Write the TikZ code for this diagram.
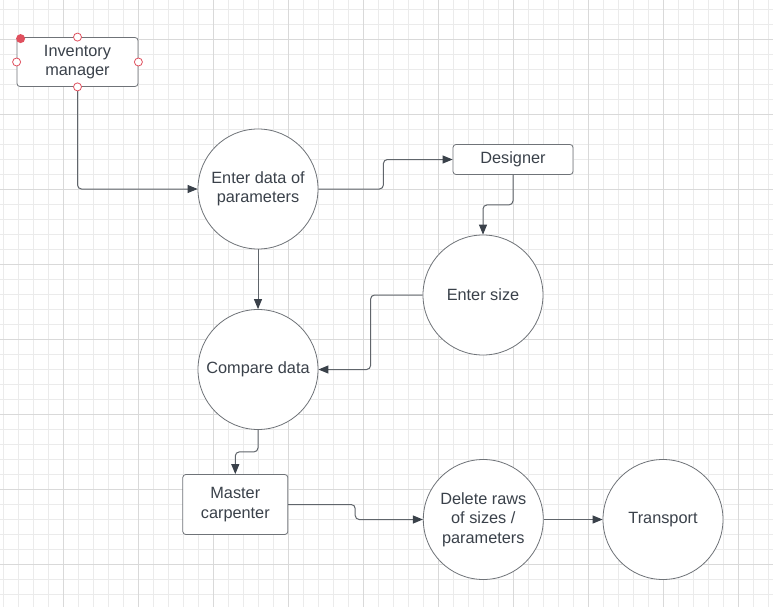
\documentclass[tikz,border=0pt]{standalone}
\usepackage{fontspec}
\setmainfont{Liberation Sans}
\usetikzlibrary{arrows.meta}
\definecolor{gridminor}{HTML}{EBEBEB}
\definecolor{gridmajor}{HTML}{D9D9D9}
\definecolor{txt}{HTML}{3A414A}
\definecolor{border}{HTML}{6F7378}
\definecolor{conn}{HTML}{60656B}
\definecolor{handle}{HTML}{E0505E}
\begin{document}
\begin{tikzpicture}[x=1pt,y=-1pt,
  lbl/.style={text=txt, font=\fontsize{16.3}{19.5}\selectfont, align=center},
  circ/.style={lbl, circle, draw=border, fill=white, minimum size=120pt, inner sep=0pt, line width=0.8pt},
  box/.style={lbl, rectangle, rounded corners=3pt, draw=border, fill=white, inner sep=0pt, line width=0.8pt},
  conn/.style={draw=conn, line width=1pt, rounded corners=4pt, -{Triangle[length=10pt,width=8pt,fill=txt,color=txt]}},
  hollowhandle/.style={circle, draw=handle, fill=white, line width=0.8pt, minimum size=8pt, inner sep=0pt},
  fullhandle/.style={circle, fill=handle, minimum size=9pt, inner sep=0pt}]
\useasboundingbox (0,0) rectangle (773,607);
\fill[white] (0,0) rectangle (773,607);
% grid
\foreach \i in {0,...,51} \draw[gridminor, line width=1pt] ({3.3+15*\i},0) -- ({3.3+15*\i},607);
\foreach \j in {0,...,40} \draw[gridminor, line width=1pt] (0,{9.3+15*\j}) -- (773,{9.3+15*\j});
\foreach \i in {0,...,9} \draw[gridmajor, line width=1pt] ({63.3+75*\i},0) -- ({63.3+75*\i},607);
\foreach \j in {0,...,7} \draw[gridmajor, line width=1pt] (0,{39.3+75*\j}) -- (773,{39.3+75*\j});
% nodes
\node[box, minimum width=121pt, minimum height=49pt] (inv) at (77.5,62) {Inventory\\manager};
\node[circ] (enter) at (258,189) {Enter data of\\parameters};
\node[box, minimum width=120pt, minimum height=30pt] (des) at (513,159.5) {Designer};
\node[circ] (esize) at (483,295) {Enter size};
\node[circ] (cmp) at (258,369.5) {Compare data};
\node[box, minimum width=105pt, minimum height=60pt] (mast) at (235.3,504.5) {Master\\carpenter};
\node[circ] (del) at (483.3,519.5) {Delete raws\\of sizes /\\parameters};
\node[circ] (trans) at (663,519.5) {Transport};
% connectors
\draw[conn] (inv.south) |- (enter.west);
\draw[conn] (enter.east) -- ++(65,0) |- (des.west);
\draw[conn] (des.south) -- ++(0,30) -| (esize.north);
\draw[conn] (enter.south) -- (cmp.north);
\draw[conn] (esize.west) -- ++(-52,0) |- (cmp.east);
\draw[conn] (cmp.south) -- ++(0,22) -| (mast.north);
\draw[conn] (mast.east) -- ++(67,0) |- (del.west);
\draw[conn] (del.east) -- (trans.west);
% selection handles
\node[fullhandle] (h0) at (20.6,38.6) {};
\node[hollowhandle] (h1) at (inv.north) {};
\node[hollowhandle] (h2) at (inv.west) {};
\node[hollowhandle] (h3) at (inv.east) {};
\node[hollowhandle] (h4) at (inv.south) {};
\end{tikzpicture}
\end{document}
